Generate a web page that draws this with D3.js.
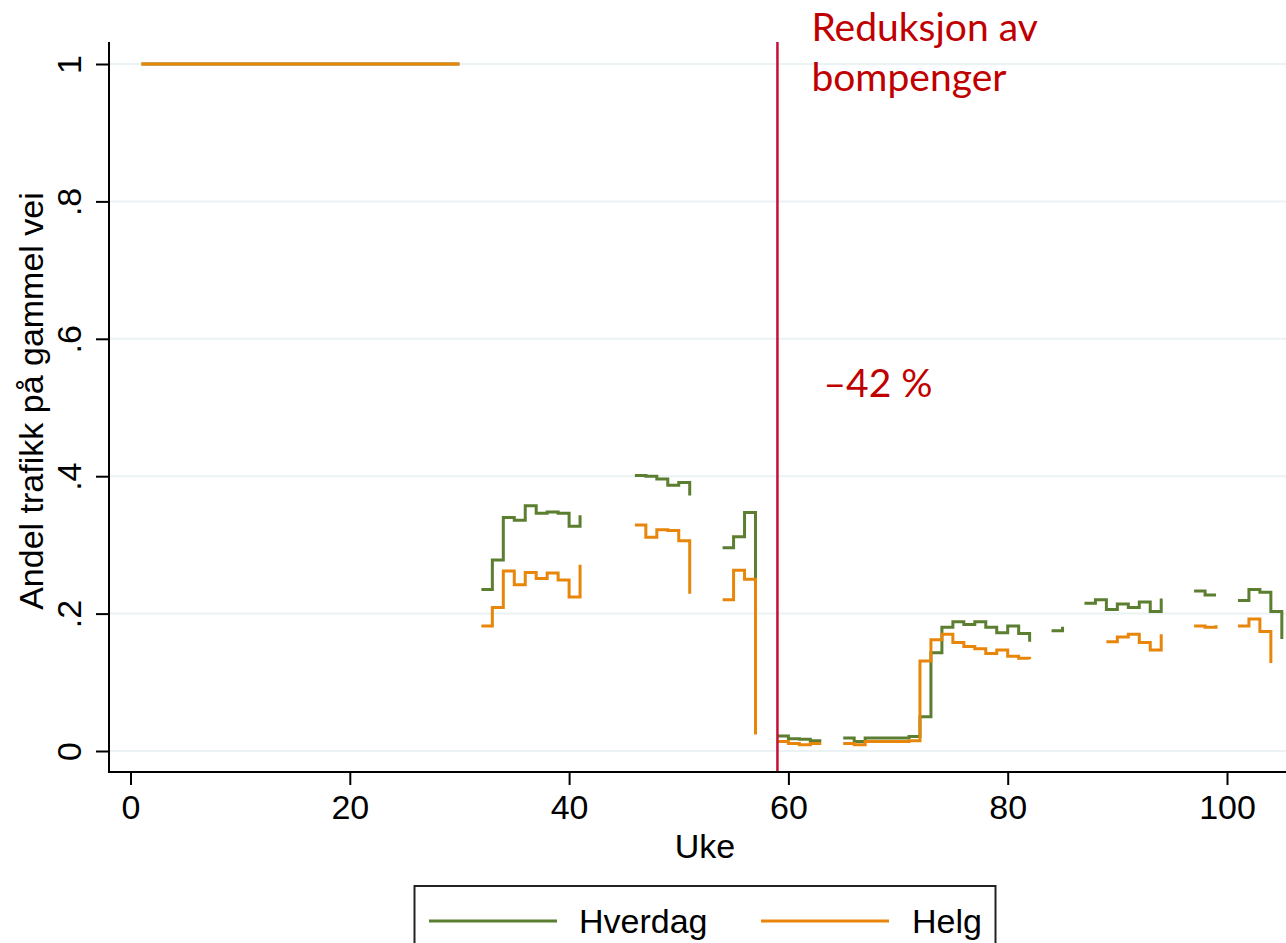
<!DOCTYPE html>
<html>
<head>
<meta charset="utf-8">
<script src="https://cdn.jsdelivr.net/npm/d3@7/dist/d3.min.js"></script>
<style>
  body { margin: 0; background: #fff; }
  svg { display: block; }
</style>
</head>
<body>
<svg id="chart" width="1286" height="943"></svg>
<script>
// weeks 1..105, null = no observation
const weeks = d3.range(1, 106);

const hverdag = [
  // 1-30
  1,1,1,1,1,1,1,1,1,1, 1,1,1,1,1,1,1,1,1,1, 1,1,1,1,1,1,1,1,1,1,
  // 31-41
  null, 0.235, 0.278, 0.340, 0.336, 0.357, 0.346, 0.348, 0.346, 0.327, 0.343,
  // 42-51
  null, null, null, null, 0.401, 0.400, 0.396, 0.387, 0.391, 0.372,
  // 52-58
  null, null, 0.296, 0.312, 0.347, 0.060, null,
  // 59-64
  0.022, 0.018, 0.017, 0.015, 0.015, null,
  // 65-83
  0.019, 0.014, 0.019, 0.019, 0.019, 0.019, 0.021, 0.050, 0.143, 0.180,
  0.188, 0.184, 0.188, 0.180, 0.172, 0.182, 0.171, 0.159, null,
  // 84-86
  0.175, 0.181, null,
  // 87-96
  0.215, 0.220, 0.206, 0.214, 0.209, 0.217, 0.203, 0.222, null, null,
  // 97-100
  0.233, 0.227, 0.227, null,
  // 101-105
  0.219, 0.235, 0.231, 0.203, 0.163
];

const helg = [
  // 1-30
  1,1,1,1,1,1,1,1,1,1, 1,1,1,1,1,1,1,1,1,1, 1,1,1,1,1,1,1,1,1,1,
  // 31-41
  null, 0.182, 0.209, 0.262, 0.242, 0.260, 0.251, 0.259, 0.249, 0.224, 0.271,
  // 42-51
  null, null, null, null, 0.329, 0.311, 0.322, 0.321, 0.306, 0.229,
  // 52-58
  null, null, 0.220, 0.263, 0.250, 0.024, null,
  // 59-64
  0.014, 0.011, 0.009, 0.011, 0.011, null,
  // 65-83
  0.011, 0.009, 0.014, 0.014, 0.014, 0.014, 0.015, 0.131, 0.162, 0.170,
  0.158, 0.152, 0.149, 0.142, 0.147, 0.138, 0.135, 0.134, null,
  // 84-86
  null, null, null,
  // 87-96
  null, null, 0.159, 0.166, 0.170, 0.158, 0.147, 0.170, null, null,
  // 97-100
  0.182, 0.180, 0.183, null,
  // 101-105
  0.182, 0.192, 0.174, 0.128, null
];

const xTicks = [0, 20, 40, 60, 80, 100];
const yTicks = [0, 0.2, 0.4, 0.6, 0.8, 1];
const yTickLabels = ['0', '.2', '.4', '.6', '.8', '1'];
const reformWeek = 59;

const cGreen = '#5b7e30';
const cOrange = '#e8860b';
const cRed = '#c00000';
const cLine = '#c40f36';
const fontAxis = '"Liberation Sans", Arial, sans-serif';
const fontNote = 'Lato, "Open Sans", sans-serif';

const svg = d3.select('svg#chart');
const plot = {left: 109, right: 1286, top: 42, bottom: 772};

const x = d3.scaleLinear().domain([0, 100]).range([130.5, 1227]);
const y = d3.scaleLinear().domain([0, 1]).range([751, 64]);

// grid
svg.append('g').selectAll('line')
  .data(yTicks)
  .enter().append('line')
    .attr('x1', plot.left).attr('x2', plot.right)
    .attr('y1', d => y(d)).attr('y2', d => y(d))
    .attr('stroke', '#eaf2f3').attr('stroke-width', 2);

// series
const line = d3.line()
  .defined(d => d.v !== null)
  .x(d => x(d.w))
  .y(d => y(d.v))
  .curve(d3.curveStepAfter);

const series = [
  {name: 'Hverdag', values: hverdag, color: cGreen},
  {name: 'Helg', values: helg, color: cOrange}
];

series.forEach(s => {
  svg.append('path')
    .datum(weeks.map((w, i) => ({w: w, v: s.values[i]})))
    .attr('fill', 'none')
    .attr('stroke', s.color)
    .attr('stroke-width', 3)
    .attr('d', line);
});

// reform line
svg.append('line')
  .attr('x1', x(reformWeek)).attr('x2', x(reformWeek))
  .attr('y1', plot.top).attr('y2', plot.bottom)
  .attr('stroke', cLine).attr('stroke-width', 2.5);

// axes
const gx = svg.append('g')
  .attr('transform', 'translate(0,' + plot.bottom + ')')
  .call(d3.axisBottom(x).tickValues(xTicks).tickSize(13).tickPadding(10));
gx.select('.domain').remove();
gx.selectAll('line').attr('stroke', '#000').attr('stroke-width', 2);
gx.selectAll('text').attr('font-family', fontAxis).attr('font-size', 34).attr('fill', '#000');

const gy = svg.append('g')
  .attr('transform', 'translate(' + plot.left + ',0)')
  .call(d3.axisLeft(y).tickValues(yTicks).tickSize(13).tickFormat((d, i) => yTickLabels[i]));
gy.select('.domain').remove();
gy.selectAll('line').attr('stroke', '#000').attr('stroke-width', 2);
gy.selectAll('text')
  .attr('font-family', fontAxis).attr('font-size', 34).attr('fill', '#000')
  .attr('x', null).attr('dy', null)
  .attr('text-anchor', 'middle')
  .attr('transform', 'translate(-28,0) rotate(-90)');

svg.append('line')
  .attr('x1', plot.left).attr('x2', plot.left)
  .attr('y1', plot.top).attr('y2', plot.bottom + 1)
  .attr('stroke', '#000').attr('stroke-width', 2);
svg.append('line')
  .attr('x1', plot.left - 1).attr('x2', plot.right)
  .attr('y1', plot.bottom).attr('y2', plot.bottom)
  .attr('stroke', '#000').attr('stroke-width', 2);

// axis titles
svg.append('text')
  .attr('x', 705).attr('y', 858)
  .attr('text-anchor', 'middle')
  .attr('font-family', fontAxis).attr('font-size', 34)
  .text('Uke');

svg.append('text')
  .attr('transform', 'translate(43,401) rotate(-90)')
  .attr('text-anchor', 'middle')
  .attr('font-family', fontAxis).attr('font-size', 34)
  .text('Andel trafikk på gammel vei');

// annotations
const note = svg.append('g')
  .attr('font-family', fontNote).attr('font-size', 39).attr('fill', cRed);
note.append('text').attr('x', x(reformWeek) + 34).attr('y', 41).text('Reduksjon av');
note.append('text').attr('x', x(reformWeek) + 34).attr('y', 91).text('bompenger');
note.append('text').attr('x', x(reformWeek) + 46).attr('y', 397).text('\u201342 %');

// legend
const legend = svg.append('g');
legend.append('rect')
  .attr('x', 414.5).attr('y', 886).attr('width', 581).attr('height', 80)
  .attr('fill', '#fff').attr('stroke', '#222').attr('stroke-width', 2);
const items = [
  {label: 'Hverdag', color: cGreen, x0: 429, tx: 579},
  {label: 'Helg', color: cOrange, x0: 761, tx: 912}
];
items.forEach(it => {
  legend.append('line')
    .attr('x1', it.x0).attr('x2', it.x0 + 128)
    .attr('y1', 921).attr('y2', 921)
    .attr('stroke', it.color).attr('stroke-width', 3);
  legend.append('text')
    .attr('x', it.tx).attr('y', 933)
    .attr('font-family', fontAxis).attr('font-size', 34)
    .text(it.label);
});
</script>
</body>
</html>
